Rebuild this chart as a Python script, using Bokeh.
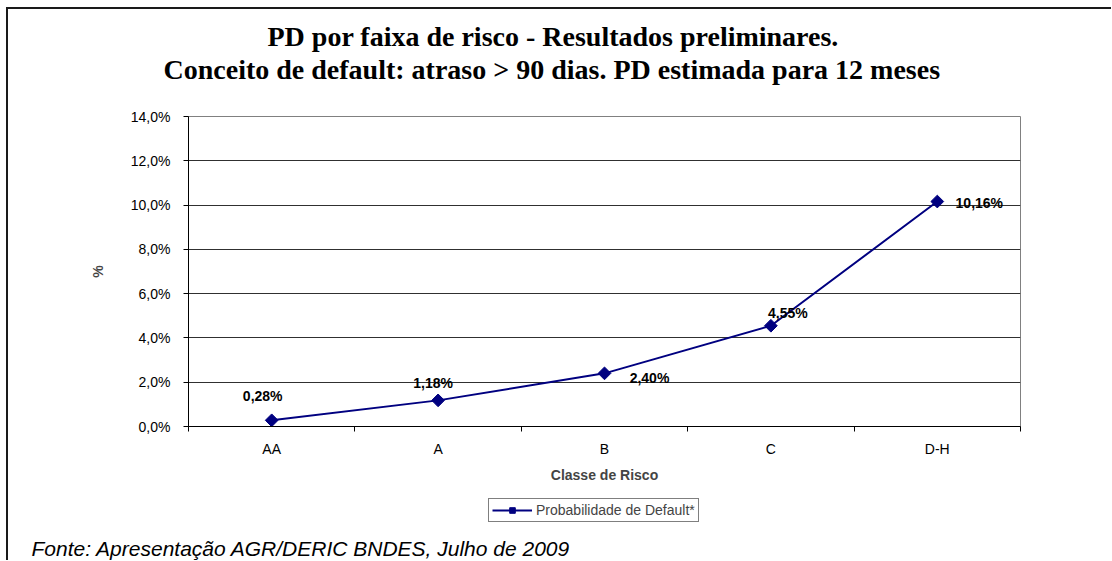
import math
from bokeh.plotting import figure
from bokeh.layouts import column
from bokeh.models import (FixedTicker, CustomJSTickFormatter, Legend, Title,
                          LegendItem, ColumnDataSource, Range1d)
from bokeh.core.properties import value
from bokeh.embed import file_html
from bokeh.resources import INLINE

# ---- data ----
categories = ["AA", "A", "B", "C", "D-H"]
pd_values = [0.28, 1.18, 2.40, 4.55, 10.16]
y_ticks = [0, 2, 4, 6, 8, 10, 12, 14]
title_line1 = "PD por faixa de risco - Resultados preliminares."
title_line2 = "Conceito de default: atraso > 90 dias. PD estimada para 12 meses"
x_label = "Classe de Risco"
y_label = "%"
series_name = "Probabilidade de Default*"
source_note = "Fonte: Apresentação AGR/DERIC BNDES, Julho de 2009"

# label placement offsets (screen px)
label_dx = [-9, -5, 45, 17, 42]
label_dy = [-24, -17, 5, -13, 1]

SANS = "Liberation Sans"
SERIF = "Liberation Serif"
NAVY = "#000080"
W = 1103

# ---- main chart ----
n = len(categories)
xs = [i + 0.5 for i in range(n)]
labels = [f"{v:.2f}".replace(".", ",") + "%" for v in pd_values]
src = ColumnDataSource(dict(x=xs, y=pd_values, label=labels, dx=label_dx, dy=label_dy))

p = figure(width=W, height=477, output_backend="svg", toolbar_location=None,
           x_range=Range1d(0, n), y_range=Range1d(0, y_ticks[-1]),
           min_border_left=180, min_border_right=91, min_border_top=107,
           min_border_bottom=60)
p.background_fill_color = "white"
p.border_fill_color = "white"
p.outline_line_color = "#808080"
p.outline_line_width = 1

# titles: line 1 is the plot title (outermost); line 2 and a spacer sit nearer the frame
p.title.text = title_line1
p.title.align = "left"
p.title.offset = 79
p.title.standoff = 0
p.title.vertical_align = "bottom"
p.title.text_font = SERIF
p.title.text_font_style = "bold"
p.title.text_font_size = "28px"
p.title.text_color = "black"
p.add_layout(Title(text=" ", text_font_size="2px", standoff=28), "above")
p.add_layout(Title(text=title_line2, align="left", offset=-25, standoff=0,
                   vertical_align="bottom", text_font=SERIF, text_font_style="bold",
                   text_font_size="28px", text_color="black"), "above")

p.xgrid.visible = False
p.ygrid.grid_line_color = "#303030"
p.ygrid.grid_line_width = 1

ya = p.yaxis[0]
ya.ticker = FixedTicker(ticks=y_ticks)
ya.formatter = CustomJSTickFormatter(code="return tick.toFixed(1).replace('.', ',') + '%';")
ya.major_tick_out = 5
ya.major_tick_in = 0
ya.minor_tick_line_color = None
ya.major_label_standoff = 13
ya.major_label_text_font = SANS
ya.major_label_text_font_size = "14px"
ya.major_label_text_color = "black"
ya.axis_line_color = "black"
ya.major_tick_line_color = "black"
ya.axis_label = y_label
ya.axis_label_text_font = SANS
ya.axis_label_text_font_style = "bold"
ya.axis_label_text_font_size = "14px"
ya.axis_label_standoff = 22

xa = p.xaxis[0]
xa.ticker = FixedTicker(ticks=xs, minor_ticks=list(range(n + 1)))
xa.formatter = CustomJSTickFormatter(args=dict(cats=categories),
                                     code="return cats[Math.floor(tick)];")
xa.major_tick_out = 0
xa.major_tick_in = 0
xa.minor_tick_out = 5
xa.minor_tick_in = 0
xa.minor_tick_line_color = "black"
xa.major_label_standoff = 9
xa.major_label_text_font = SANS
xa.major_label_text_font_size = "14px"
xa.major_label_text_color = "black"
xa.axis_line_color = "black"
xa.axis_label = x_label
xa.axis_label_text_font = SANS
xa.axis_label_text_font_style = "bold"
xa.axis_label_text_font_size = "14px"
xa.axis_label_standoff = 7

p.line("x", "y", source=src, line_color=NAVY, line_width=2)
p.scatter("x", "y", source=src, marker="square", angle=math.pi / 4,
          size=9, fill_color=NAVY, line_color=NAVY)
p.text(x="x", y="y", text="label", x_offset="dx", y_offset="dy", source=src,
       text_font=value(SANS), text_font_style="bold", text_font_size="14px",
       text_align="center", text_baseline="middle", text_color="black")

# ---- legend + source block (ranges keep its series copies out of view) ----
bot = figure(width=W, height=74, output_backend="svg", toolbar_location=None,
             x_axis_type=None, y_axis_type=None, title_location="below",
             x_range=Range1d(-10, -9), y_range=Range1d(-10, -9),
             min_border=0, min_border_left=0, min_border_right=0,
             min_border_top=0, min_border_bottom=0)
bot.outline_line_color = None
bot.background_fill_color = "white"
bot.border_fill_color = "white"
bot.xgrid.visible = False
bot.ygrid.visible = False
lg_line = bot.line("x", "y", source=src, line_color=NAVY, line_width=2)
lg_pts = bot.scatter("x", "y", source=src, marker="square", angle=math.pi / 4,
                     size=9, fill_color=NAVY, line_color=NAVY)
legend = Legend(items=[LegendItem(label=series_name, renderers=[lg_line, lg_pts])],
                location=(300, 11), orientation="vertical",
                border_line_color="black", border_line_width=1,
                background_fill_color="white", background_fill_alpha=1,
                padding=3, spacing=0, margin=0,
                glyph_width=40, glyph_height=14, label_height=14,
                label_standoff=4, label_text_font=SANS,
                label_text_font_size="14px")
bot.add_layout(legend)
bot.title.text = source_note
bot.title.align = "left"
bot.title.offset = -157
bot.title.standoff = 2
bot.title.vertical_align = "bottom"
bot.title.text_font = SANS
bot.title.text_font_style = "italic"
bot.title.text_font_size = "21px"
bot.title.text_color = "black"

layout = column(p, bot, spacing=0)
layout.styles = {"margin-left": "6px", "margin-top": "7px",
                 "border-left": "2px solid #1a1a1a", "border-top": "2px solid #1a1a1a"}

open("out.html", "w").write(file_html(layout, INLINE))
